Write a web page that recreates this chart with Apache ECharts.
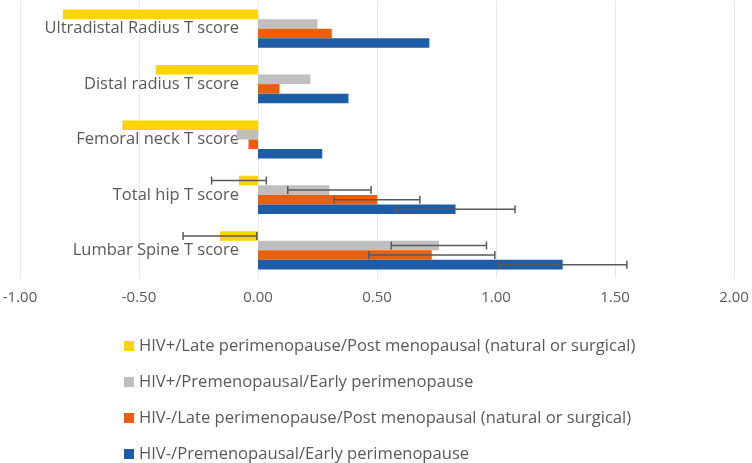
<!DOCTYPE html>
<html lang="en">
<head>
    <meta charset="UTF-8">
    <title>T score chart</title>
    <script src="https://cdn.jsdelivr.net/npm/echarts@6/dist/echarts.min.js"></script>
    <style>
        html, body { margin: 0; padding: 0; background: #fff; }
        #chart { width: 752px; height: 463px; }
    </style>
</head>
<body>
    <div id="chart"></div>
    <script>
        // categories, top to bottom
        var categories = ['Ultradistal Radius T score', 'Distal radius T score', 'Femoral neck T score', 'Total hip T score', 'Lumbar Spine T score'];
        var seriesNames = [
            'HIV+/Late perimenopause/Post menopausal (natural or surgical)',
            'HIV+/Premenopausal/Early perimenopause',
            'HIV-/Late perimenopause/Post menopausal (natural or surgical)',
            'HIV-/Premenopausal/Early perimenopause'
        ];
        var colors = ['#FFD400', '#BFBFBF', '#E8600E', '#1F5CA6'];

        var hivPosLate = [-0.82, -0.43, -0.57, -0.08, -0.16];
        var hivPosPre = [0.25, 0.22, -0.09, 0.30, 0.76];
        var hivNegLate = [0.31, 0.09, -0.04, 0.50, 0.73];
        var hivNegPre = [0.72, 0.38, 0.27, 0.83, 1.28];

        // error bar half widths (null = no error bar)
        var errPosLate = [null, null, null, 0.115, 0.155];
        var errPosPre = [null, null, null, 0.175, 0.20];
        var errNegLate = [null, null, null, 0.18, 0.265];
        var errNegPre = [null, null, null, 0.25, 0.27];

        var xTicks = [-1, -0.5, 0, 0.5, 1, 1.5, 2];

        var values = [hivPosLate, hivPosPre, hivNegLate, hivNegPre];
        var errors = [errPosLate, errPosPre, errNegLate, errNegPre];
        var catGap = 0.31;

        var errData = [];
        for (var k = 0; k < values.length; k++) {
            for (var i = 0; i < categories.length; i++) {
                if (errors[k][i] != null) {
                    errData.push([i, values[k][i], errors[k][i], k]);
                }
            }
        }

        var series = [];
        for (var s = 0; s < values.length; s++) {
            series.push({
                name: seriesNames[s],
                type: 'bar',
                data: values[s],
                barGap: '0%',
                barCategoryGap: (catGap * 100) + '%',
                itemStyle: { color: colors[s] },
                z: 2
            });
        }

        series.push({
            type: 'custom',
            data: errData,
            z: 5,
            silent: true,
            encode: { x: 1, y: 0 },
            renderItem: function (params, api) {
                var cat = api.value(0);
                var val = api.value(1);
                var err = api.value(2);
                var k = api.value(3);
                var center = api.coord([val, cat]);
                var band = api.size([0, 1])[1];
                var group = band * (1 - catGap);
                var bw = group / values.length;
                var y = center[1] - group / 2 + bw * (k + 0.5);
                var x1 = api.coord([val - err, cat])[0];
                var x2 = api.coord([val + err, cat])[0];
                var cap = 4;
                var style = { stroke: '#595959', lineWidth: 1.5 };
                return {
                    type: 'group',
                    children: [
                        { type: 'line', shape: { x1: x1, y1: y, x2: x2, y2: y }, style: style },
                        { type: 'line', shape: { x1: x1, y1: y - cap, x2: x1, y2: y + cap }, style: style },
                        { type: 'line', shape: { x1: x2, y1: y - cap, x2: x2, y2: y + cap }, style: style }
                    ]
                };
            }
        });

        var myChart = echarts.init(document.getElementById('chart'));
        myChart.setOption({
            backgroundColor: '#ffffff',
            animation: false,
            textStyle: { fontFamily: 'Open Sans' },
            grid: { left: 20, right: 18, top: 1, bottom: 185, containLabel: false, outerBoundsMode: 'none' },
            legend: {
                data: seriesNames,
                orient: 'vertical',
                left: 119,
                top: 331,
                height: 140,
                itemWidth: 10,
                itemHeight: 10,
                itemGap: 16,
                icon: 'rect',
                textStyle: { color: '#595959', fontSize: 16.6, lineHeight: 20, fontFamily: 'Open Sans' }
            },
            xAxis: {
                type: 'value',
                min: xTicks[0],
                max: xTicks[xTicks.length - 1],
                interval: 0.5,
                axisLine: { show: false },
                axisTick: { show: false },
                splitLine: { lineStyle: { color: '#E8E8E8', width: 1 } },
                axisLabel: {
                    color: '#595959',
                    fontSize: 15,
                    margin: 12,
                    formatter: function (v) { return v.toFixed(2); }
                }
            },
            yAxis: {
                type: 'category',
                data: categories,
                inverse: true,
                axisLine: { show: false },
                axisTick: { show: false },
                // labels sit just left of the zero line, as in the original
                axisLabel: { color: '#595959', fontSize: 16.5, margin: -219, align: 'right', padding: [3, 0, 0, 0] }
            },
            series: series
        });
    </script>
</body>
</html>
